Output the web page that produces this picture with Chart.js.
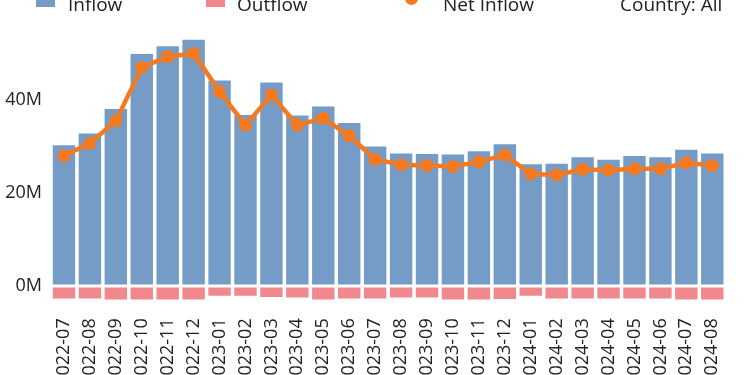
<!DOCTYPE html>
<html>
<head>
<meta charset="utf-8">
<script src="https://cdn.jsdelivr.net/npm/chart.js@4"></script>
<style>
  html, body { margin: 0; padding: 0; width: 750px; height: 375px; overflow: hidden; background: #fff; }
  #wrap { position: absolute; left: 0; top: 0; width: 750px; height: 400px; }
  .lg { position: absolute; font: 19px "Open Sans", sans-serif; color: #222; line-height: 19px; white-space: nowrap; }
  .sw { position: absolute; width: 19px; height: 19px; }
</style>
</head>
<body>
<div id="wrap"><canvas id="chart" width="750" height="400"></canvas></div>
<div class="sw" style="left:36px; top:-12px; background:#749CC7"></div>
<div class="lg" style="left:68px; top:-5px">Inflow</div>
<div class="sw" style="left:206px; top:-12px; background:#F0888E"></div>
<div class="lg" style="left:237px; top:-5px">Outflow</div>
<div style="position:absolute; left:393px; top:-4px; width:37px; height:4px; background:#F47A22"></div>
<div style="position:absolute; left:405px; top:-8px; width:13px; height:13px; border-radius:50%; background:#F47A22"></div>
<div class="lg" style="left:443px; top:-5px">Net Inflow</div>
<div class="lg" style="left:620px; top:-5px">Country: All</div>
<script>
const months = ['2022-07','2022-08','2022-09','2022-10','2022-11','2022-12',
  '2023-01','2023-02','2023-03','2023-04','2023-05','2023-06','2023-07','2023-08',
  '2023-09','2023-10','2023-11','2023-12','2024-01','2024-02','2024-03','2024-04',
  '2024-05','2024-06','2024-07','2024-08'];
// millions
const inflow = [30.6, 33.1, 38.4, 50.2, 51.9, 53.3, 44.5, 37.1, 44.1, 37.0, 38.9, 35.4, 30.3,
  28.8, 28.7, 28.6, 29.3, 30.8, 26.5, 26.6, 28.0, 27.5, 28.3, 28.0, 29.6, 28.8];
const outflow = [-3.0, -3.0, -3.2, -3.2, -3.2, -3.2, -2.4, -2.4, -2.7, -2.8, -3.2, -3.0, -3.0,
  -2.8, -2.8, -3.2, -3.2, -3.1, -2.4, -3.0, -3.0, -3.0, -3.0, -3.0, -3.2, -3.2];
const netInflow = [28.0, 30.7, 35.5, 47.0, 49.3, 50.0, 41.8, 34.6, 41.1, 34.6, 36.1, 32.3, 27.2,
  26.1, 25.9, 25.7, 26.7, 28.2, 24.1, 23.9, 25.1, 24.9, 25.2, 25.2, 26.5, 25.9];
const yTicks = [0, 20, 40];

const font = { family: '"Open Sans", sans-serif' };

new Chart(document.getElementById('chart'), {
  data: {
    labels: months,
    datasets: [
      {
        type: 'line', label: 'Net Inflow', data: netInflow, order: 0,
        borderColor: '#F47A22', backgroundColor: '#F47A22', borderWidth: 4.5,
        pointRadius: 6.5, pointBorderWidth: 0, tension: 0
      },
      {
        type: 'bar', label: 'Inflow', data: inflow, order: 1, grouped: false,
        backgroundColor: '#749CC7', borderColor: '#ffffff', borderWidth: 1.5, borderSkipped: false,
        barPercentage: 0.98, categoryPercentage: 1
      },
      {
        type: 'bar', label: 'Outflow', data: outflow, order: 1, grouped: false,
        backgroundColor: '#F0888E', borderColor: '#ffffff', borderWidth: 1.5, borderSkipped: false,
        barPercentage: 0.98, categoryPercentage: 1
      }
    ]
  },
  options: {
    responsive: false,
    animation: false,
    layout: { padding: { top: 25.6, right: 3.5, left: 0, bottom: 0 } },
    plugins: { legend: { display: false }, tooltip: { enabled: false } },
    scales: {
      x: {
        grid: { display: false, drawTicks: false },
        border: { display: false },
        ticks: {
          autoSkip: false, maxRotation: 90, minRotation: 90, padding: 16,
          color: '#222', font: { ...font, size: 18 }
        },
        afterFit: s => { s.height = 97.7; }
      },
      y: {
        min: -3.5, max: 56,
        grid: { display: false, drawTicks: false },
        border: { display: false },
        afterBuildTicks: s => { s.ticks = yTicks.map(v => ({ value: v })); },
        ticks: {
          padding: 9, color: '#222', font: { ...font, size: 18 },
          callback: v => v + 'M'
        },
        afterFit: s => { s.width = 51; }
      }
    }
  }
});
</script>
</body>
</html>
